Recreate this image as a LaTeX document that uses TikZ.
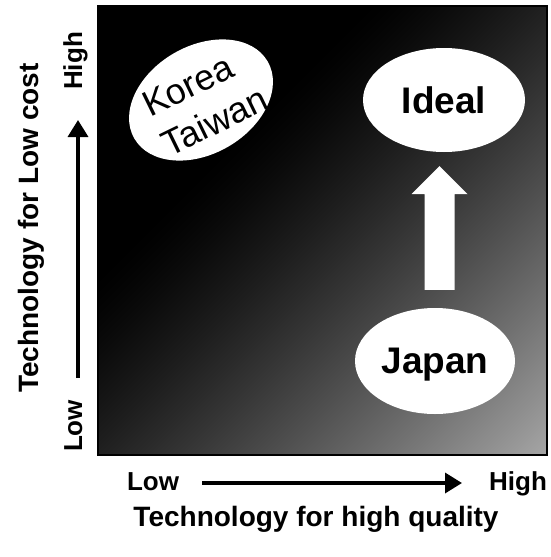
\documentclass[tikz,border=0pt]{standalone}
\usepackage{fontspec}
\setmainfont{Liberation Sans}
\usetikzlibrary{arrows.meta,calc,shapes.geometric}
\pgfdeclarefunctionalshading{diagfade}{\pgfpointorigin}{\pgfpoint{100bp}{100bp}}{}{%
  sub 50 add 100 div 0.3 sub 0.7 div dup 0 lt {pop 0} if dup 1 gt {pop 1} if 1.3 exp 0.65 mul dup dup}
\tikzset{
  blob/.style={ellipse, fill=white, inner sep=0pt},
  bigtxt/.style={font=\fontsize{37}{44}\selectfont\bfseries},
  kttxt/.style={font=\fontsize{36}{44}\selectfont, inner sep=0pt},
  axislbl/.style={font=\fontsize{26}{30}\selectfont\bfseries, inner sep=0pt, anchor=base},
  axistitle/.style={font=\fontsize{28}{34}\selectfont\bfseries, inner sep=0pt, anchor=base},
  axisarrow/.style={line width=3.5pt, -{Triangle[width=20pt,length=17pt]}},
  field/.style={draw=black, line width=1.5pt, shading=diagfade, minimum width=449pt, minimum height=449pt, inner sep=0pt},
}
\begin{document}
\begin{tikzpicture}[x=1pt,y=-1pt]
\useasboundingbox (0,0) rectangle (550,557);
% plot field with gradient
\node[field] (plot) at (322.5,230.5) {};
% ellipses
\node[blob, minimum width=154pt, minimum height=108pt, rotate=30] (kt) at (201,100) {};
\node[kttxt, rotate=26, align=left] (kttext) at (205,102) {Korea\\Taiwan};
\node[blob, bigtxt, minimum width=162pt, minimum height=104pt] (ideal) at (444,100) {Ideal};
\node[blob, bigtxt, text depth=0pt, minimum width=160pt, minimum height=106pt] (japan) at (435,361) {Japan};
% block arrow Japan -> Ideal
\coordinate (ax) at ($(japan.north)!0.5!(ideal.south)$);
\coordinate (ab) at ($(ax |- japan.north)+(0,-18)$);
\coordinate (at) at ($(ax |- ideal.south)+(0,14)$);
\fill[white] ($(ab)+(-15,0)$) -- ($(ab)+(15,0)$) -- ($(at)+(15,28)$) -- ($(at)+(28,28)$)
  -- (at) -- ($(at)+(-28,28)$) -- ($(at)+(-15,28)$) -- cycle;
% vertical axis
\node[axislbl, rotate=90] (vhigh) at (82,61) {High};
\node[axislbl, rotate=90] (vlow) at (82,426) {Low};
\coordinate (vs) at (78,378);
\coordinate (ve) at (78,120);
\draw[axisarrow] (vs) -- (ve);
\node[axistitle, rotate=90] (ytitle) at (38,228) {Technology for Low cost};
% horizontal axis
\node[axislbl] (hlow) at (153,490) {Low};
\node[axislbl] (hhigh) at (518,490) {High};
\coordinate (hs) at (202,483);
\coordinate (he) at (462,483);
\draw[axisarrow] (hs) -- (he);
\node[axistitle] (xtitle) at (316,526) {Technology for high quality};
\end{tikzpicture}
\end{document}
